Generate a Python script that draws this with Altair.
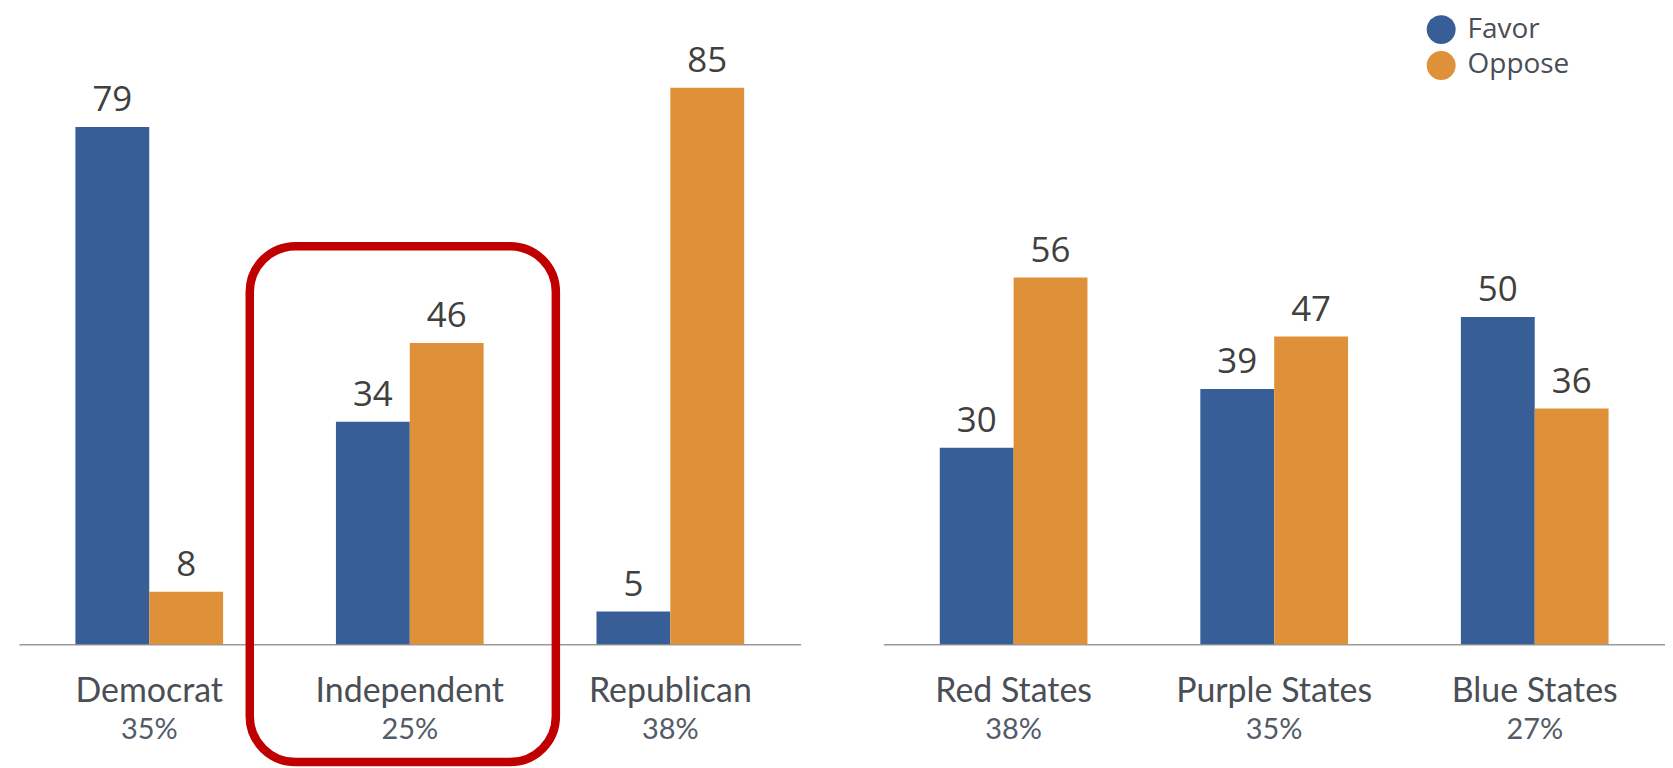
import altair as alt
import pandas as pd

# ---- data ----
party_groups = ["Democrat", "Independent", "Republican"]
party_share = ["35%", "25%", "38%"]
party_favor = [79, 34, 5]
party_oppose = [8, 46, 85]

state_groups = ["Red States", "Purple States", "Blue States"]
state_share = ["38%", "35%", "27%"]
state_favor = [30, 39, 50]
state_oppose = [56, 47, 36]

series = ["Favor", "Oppose"]
series_colors = ["#375E97", "#DF913A"]

# highlighted group (red rounded frame), in chart units
highlight_group = ["Independent"]
highlight_top = [60.8]
highlight_bottom = [-18.0]

Y_MAX = 96.09
PLOT_H = 631
BLUE_GRAY = "#4a4e55"


def long_table(groups, favor, oppose):
    rows = []
    for g, f, o in zip(groups, favor, oppose):
        rows.append({"group": g, "series": "Favor", "value": f})
        rows.append({"group": g, "series": "Oppose", "value": o})
    return pd.DataFrame(rows)


LEGEND = alt.Legend(
    title=None, orient="none", legendX=1412, legendY=0,
    symbolType="circle", symbolSize=841, symbolStrokeWidth=0,
    labelFont="Open Sans", labelFontSize=28, labelColor="#4a4e55",
    labelOffset=12, rowPadding=7, padding=0,
)


def panel(groups, share, favor, oppose, box=False):
    df = long_table(groups, favor, oppose)
    lab = pd.DataFrame({"group": groups, "share": share, "base": [0] * len(groups)})

    xenc = alt.X(
        "group:N",
        sort=groups,
        scale=alt.Scale(paddingInner=0, paddingOuter=0),
        axis=alt.Axis(labels=False, ticks=False, title=None, grid=False,
                      domainColor="#9a9a9a", domainWidth=1.5),
    )
    xoff = alt.XOffset("series:N", sort=series,
                       scale=alt.Scale(paddingInner=0, paddingOuter=0.764))
    yenc = alt.Y("value:Q", scale=alt.Scale(domain=[0, Y_MAX]), axis=None)
    ybase = alt.Y("base:Q", scale=alt.Scale(domain=[0, Y_MAX]), axis=None)

    bars = alt.Chart(df).mark_bar().encode(
        x=xenc, xOffset=xoff, y=yenc,
        color=alt.Color("series:N", sort=series,
                        scale=alt.Scale(domain=series, range=series_colors),
                        legend=LEGEND),
    )
    vals = alt.Chart(df).mark_text(
        dy=-16, baseline="alphabetic", font="Open Sans", fontSize=35, color="#404040"
    ).encode(x=xenc, xOffset=xoff, y=yenc, text="value:Q")

    cats = alt.Chart(lab).mark_text(
        dy=58, baseline="alphabetic", font="Lato", fontSize=34, color=BLUE_GRAY
    ).encode(x=xenc, y=ybase, text="group:N")
    pcts = alt.Chart(lab).mark_text(
        dy=95, baseline="alphabetic", font="Lato", fontSize=29, color="#525c68"
    ).encode(x=xenc, y=ybase, text="share:N")

    layers = [bars, vals, cats, pcts]
    if box:
        bdf = pd.DataFrame({"group": highlight_group, "top": highlight_top,
                            "bottom": highlight_bottom})
        frame = alt.Chart(bdf).mark_bar(
            fill="transparent", stroke="#C00000", strokeWidth=8.5,
            cornerRadius=46, width=307, xOffset=-7, clip=False,
        ).encode(
            x=xenc,
            y=alt.Y("top:Q", scale=alt.Scale(domain=[0, Y_MAX]), axis=None),
            y2="bottom:Q",
        )
        layers.append(frame)

    return alt.layer(*layers).properties(width=784, height=PLOT_H)


left = panel(party_groups, party_share, party_favor, party_oppose, box=True)
right = panel(state_groups, state_share, state_favor, state_oppose)

chart = alt.hconcat(left, right, spacing=83).properties(
    padding={"left": 11, "top": 6, "right": 0, "bottom": 0},
    background="white",
).configure_view(stroke=None)

chart.save("out.html", embed_options={"renderer": "svg", "actions": False})
